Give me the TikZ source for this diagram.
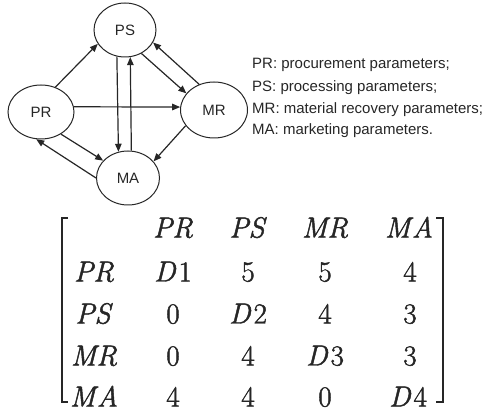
\documentclass[tikz,border=0pt]{standalone}
\usepackage{fontspec}
\newfontfamily\legendfont{Liberation Sans}
\newfontfamily\matfont[FakeBold=1.6]{Latin Modern Roman}
\usepackage{tikz}
\usetikzlibrary{positioning,arrows.meta,shapes.geometric}
\usepackage{xcolor}
\definecolor{inkgray}{HTML}{262626}

\newcommand{\mv}[1]{{\itshape #1\/}}
\newcommand{\dv}[1]{{\itshape D\/}\kern2.5pt#1}

\begin{document}
\begin{tikzpicture}[
    x=1pt, y=-1pt,
    paramnode/.style={ellipse, draw=inkgray, line width=1pt, inner sep=0pt, font=\legendfont\fontsize{15}{18}\selectfont, text=inkgray},
    edge/.style={draw=inkgray, line width=1.2pt, -{Triangle[length=8pt,width=6.5pt]}},
    legendtext/.style={font=\legendfont\fontsize{15}{18}\selectfont, text=inkgray, anchor=west, inner sep=0pt},
    cellnode/.style={font=\matfont\fontsize{29}{31}\selectfont, anchor=base, inner sep=0pt, text=inkgray},
    bracket/.style={draw=inkgray, line width=1.3pt}
]
    \useasboundingbox (0,0) rectangle (498,411);

    % Parameter groups
    \node[paramnode, minimum width=62pt, minimum height=54pt] (PS) at (125,30)  {PS};
    \node[paramnode, minimum width=66pt, minimum height=54pt] (PR) at (41,112)  {PR};
    \node[paramnode, minimum width=67pt, minimum height=56pt] (MR) at (214,110) {MR};
    \node[paramnode, minimum width=63pt, minimum height=54pt] (MA) at (128,178) {MA};

    % Influence arrows
    \draw[edge] (PR.60)  -- (PS.207);
    \draw[edge] (PS.305) -- (MR.149);
    \draw[edge] (MR.120) -- (PS.336);
    \draw[edge] (PR.9)   -- (MR.175);
    \draw[edge] (PS.253) -- (MA.110);
    \draw[edge] (MA.83)  -- (PS.281);
    \draw[edge] (PR.312) -- (MA.145);
    \draw[edge] (MA.180) -- (PR.260);
    \draw[edge] (MR.209) -- (MA.33);

    % Legend
    \node[legendtext] (lPR) at (252,65)  {PR: procurement parameters;};
    \node[legendtext] (lPS) at (252,88)  {PS: processing parameters;};
    \node[legendtext] (lMR) at (252,110) {MR: material recovery parameters;};
    \node[legendtext] (lMA) at (252,131) {MA: marketing parameters.};

    % Matrix header
    \node[cellnode] (hPR) at (173,237.5) {\mv{PR}};
    \node[cellnode] (hPS) at (248,237.5) {\mv{PS}};
    \node[cellnode] (hMR) at (325,237.5) {\mv{MR}};
    \node[cellnode] (hMA) at (409,237.5) {\mv{M\kern1.5pt A}};

    % Matrix rows
    \node[cellnode] (rPR) at (94,281.5)  {\mv{PR}};
    \node[cellnode] (c11) at (173,281.5) {\dv{1}};
    \node[cellnode] (c12) at (248,281.5) {5};
    \node[cellnode] (c13) at (325,281.5) {5};
    \node[cellnode] (c14) at (410,281.5) {4};

    \node[cellnode] (rPS) at (94,323.5)  {\mv{PS}};
    \node[cellnode] (c21) at (173,323.5) {0};
    \node[cellnode] (c22) at (248,323.5) {\dv{2}};
    \node[cellnode] (c23) at (325,323.5) {4};
    \node[cellnode] (c24) at (410,323.5) {3};

    \node[cellnode] (rMR) at (94,365.5)  {\mv{MR}};
    \node[cellnode] (c31) at (173,365.5) {0};
    \node[cellnode] (c32) at (248,365.5) {4};
    \node[cellnode] (c33) at (325,365.5) {\dv{3}};
    \node[cellnode] (c34) at (410,365.5) {3};

    \node[cellnode] (rMA) at (94,406.5)  {\mv{M\kern1.5pt A}};
    \node[cellnode] (c41) at (173,406.5) {4};
    \node[cellnode] (c42) at (248,406.5) {4};
    \node[cellnode] (c43) at (325,406.5) {0};
    \node[cellnode] (c44) at (408,406.5) {\dv{4}};

    % Brackets
    \draw[bracket] (68,218) -- (62,218) -- (62,402) -- (68,402);
    \draw[bracket] (436,218) -- (443,218) -- (443,402) -- (436,402);
\end{tikzpicture}
\end{document}
